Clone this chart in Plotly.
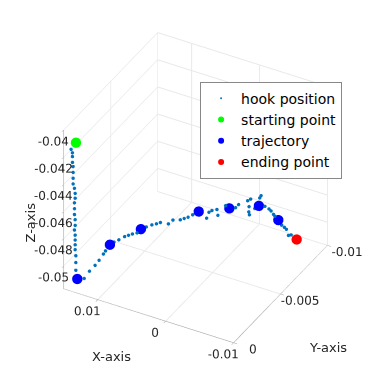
import numpy as np
import plotly.graph_objects as go

# hook position samples (descent, then the sweep)
hook_x = [0.0149, 0.0147, 0.0147, 0.0147, 0.0146, 0.0146, 0.0146, 0.0146, 0.0144, 0.0143,
          0.0143, 0.0144, 0.0144, 0.0144, 0.0143, 0.0143, 0.0144, 0.0143, 0.0143, 0.0143,
          0.0143, 0.0142, 0.0142, 0.0142,
          0.0131, 0.0133, 0.0133, 0.0134, 0.0136, 0.0137, 0.0137, 0.0134, 0.0131, 0.0128,
          0.0125, 0.0121, 0.0117, 0.0113, 0.0109, 0.0106, 0.0097, 0.0093, 0.0085, 0.0082,
          0.0079, 0.0075, 0.0060, 0.0058, 0.0055, 0.0049, 0.0049, 0.0039, 0.0027, 0.0024,
          0.0012, 0.0009, 0.0010, 0.0003, 0.0009, 0.0008, -0.0003, -0.0005, -0.0012, -0.0018,
          -0.0021, -0.0026, -0.0028, -0.0038, -0.0042, -0.0045, -0.0048, -0.0052, -0.0057]
hook_y = [-0.0007] * 24 + \
         [-0.0008, -0.0015, -0.0021, -0.0026, -0.0032, -0.0035, -0.0044, -0.0047, -0.0051, -0.0053,
          -0.0055, -0.0057, -0.0064, -0.0067, -0.0069, -0.0071, -0.0073, -0.0075, -0.0077, -0.0079,
          -0.0081, -0.0083, -0.0087, -0.0088, -0.0089, -0.0090, -0.0091, -0.0092, -0.0094, -0.0095,
          -0.0096, -0.0097, -0.0096, -0.0097, -0.0095, -0.0095, -0.0098, -0.0098, -0.0097, -0.0097,
          -0.0097, -0.0096, -0.0096, -0.0096, -0.0096, -0.0096, -0.0096, -0.0096, -0.0096]
hook_z = [-0.04191, -0.04213, -0.04241, -0.04284, -0.04313, -0.04356, -0.04399, -0.04441, -0.0447, -0.04506,
          -0.04541, -0.04577, -0.0462, -0.04663, -0.04699, -0.04741, -0.04777, -0.04813, -0.04849, -0.04884,
          -0.0492, -0.04963, -0.05013, -0.0507,
          -0.0512, -0.0512, -0.0512, -0.0512, -0.0512, -0.0512, -0.0512, -0.0512, -0.0512, -0.0512,
          -0.0512, -0.0512, -0.0512, -0.0512, -0.0512, -0.0512, -0.0513, -0.0511, -0.0511, -0.0511,
          -0.0511, -0.0510, -0.0513, -0.0509, -0.0508, -0.0507, -0.0512, -0.0504, -0.0505, -0.0503,
          -0.0499, -0.0498, -0.0503, -0.0504, -0.0506, -0.0508, -0.0496, -0.0494, -0.0500, -0.0501,
          -0.0502, -0.0503, -0.0504, -0.0509, -0.0510, -0.0511, -0.0515, -0.0514, -0.0516]

start_pt = [0.0142, -0.0007, -0.0413]
traj_x = [0.0140, 0.0139, 0.0121, 0.0069, 0.0035, -0.0003, -0.0033]
traj_y = [-0.0007, -0.0041, -0.0061, -0.0085, -0.0093, -0.0097, -0.0096]
traj_z = [-0.0513, -0.0512, -0.0512, -0.0508, -0.0506, -0.0501, -0.0506]
end_pt = [-0.0060, -0.0096, -0.0516]

x_ticks = [0.01, 0, -0.01]
y_ticks = [0, -0.005, -0.01]
z_ticks = [-0.04, -0.042, -0.044, -0.046, -0.048, -0.05]
z_labels = ['-0.04', '-0.042', '-0.044', '-0.046', '-0.048', '-0.05']

fig = go.Figure()
fig.add_trace(go.Scatter3d(x=hook_x, y=hook_y, z=hook_z, mode='markers', name='hook position',
                           marker=dict(size=2, color='#0072BD')))
fig.add_trace(go.Scatter3d(x=[start_pt[0]], y=[start_pt[1]], z=[start_pt[2]], mode='markers',
                           name='starting point', marker=dict(size=6, color='#00FF00')))
fig.add_trace(go.Scatter3d(x=traj_x, y=traj_y, z=traj_z, mode='markers', name='trajectory',
                           marker=dict(size=6, color='#0000FF')))
fig.add_trace(go.Scatter3d(x=[end_pt[0]], y=[end_pt[1]], z=[end_pt[2]], mode='markers',
                           name='ending point', marker=dict(size=6, color='#FF0000')))

ax = dict(showbackground=False, gridcolor='#e8e8e8', showline=True, linecolor='#a0a0a0',
          ticks='outside', ticklen=4, tickcolor='#a0a0a0', zeroline=False, tickangle=0,
          tickfont=dict(size=12, color='#262626'), showspikes=False, title=dict(text=''))

center = np.array([0.005, 0.003, -0.09])
view = np.array([-0.484, 0.875, 0.70])
eye = center + view / np.linalg.norm(view) * 1.80

fig.update_layout(
    width=373, height=388, margin=dict(l=0, r=0, t=0, b=0),
    paper_bgcolor='white', font=dict(family='DejaVu Sans', color='#262626'),
    scene=dict(
        xaxis=dict(ax, range=[-0.01, 0.015], tickvals=x_ticks, ticktext=['0.01', '0', '-0.01']),
        yaxis=dict(ax, range=[-0.01, 0], tickvals=y_ticks, ticktext=['0', '-0.005', '-0.01']),
        zaxis=dict(ax, range=[-0.0517, -0.04], tickvals=z_ticks, ticktext=z_labels),
        aspectmode='cube',
        camera=dict(eye=dict(x=eye[0], y=eye[1], z=eye[2]),
                    center=dict(x=center[0], y=center[1], z=center[2]),
                    projection=dict(type='orthographic')),
    ),
    annotations=[
        dict(text='X-axis', x=82 / 373, y=1 - 358 / 388, xref='paper', yref='paper',
             showarrow=False, font=dict(size=13)),
        dict(text='Y-axis', x=341 / 373, y=1 - 349 / 388, xref='paper', yref='paper',
             showarrow=False, font=dict(size=13)),
        dict(text='Z-axis', x=12 / 373, y=1 - 215 / 388, xref='paper', yref='paper',
             showarrow=False, textangle=-90, font=dict(size=13)),
    ],
    legend=dict(x=0.515, y=0.81, xanchor='left', yanchor='top', bordercolor='#888888',
                borderwidth=1, bgcolor='white', font=dict(size=14, color='black'),
                tracegroupgap=0, itemwidth=30),
    showlegend=True,
)

fig.write_html("out.html")
